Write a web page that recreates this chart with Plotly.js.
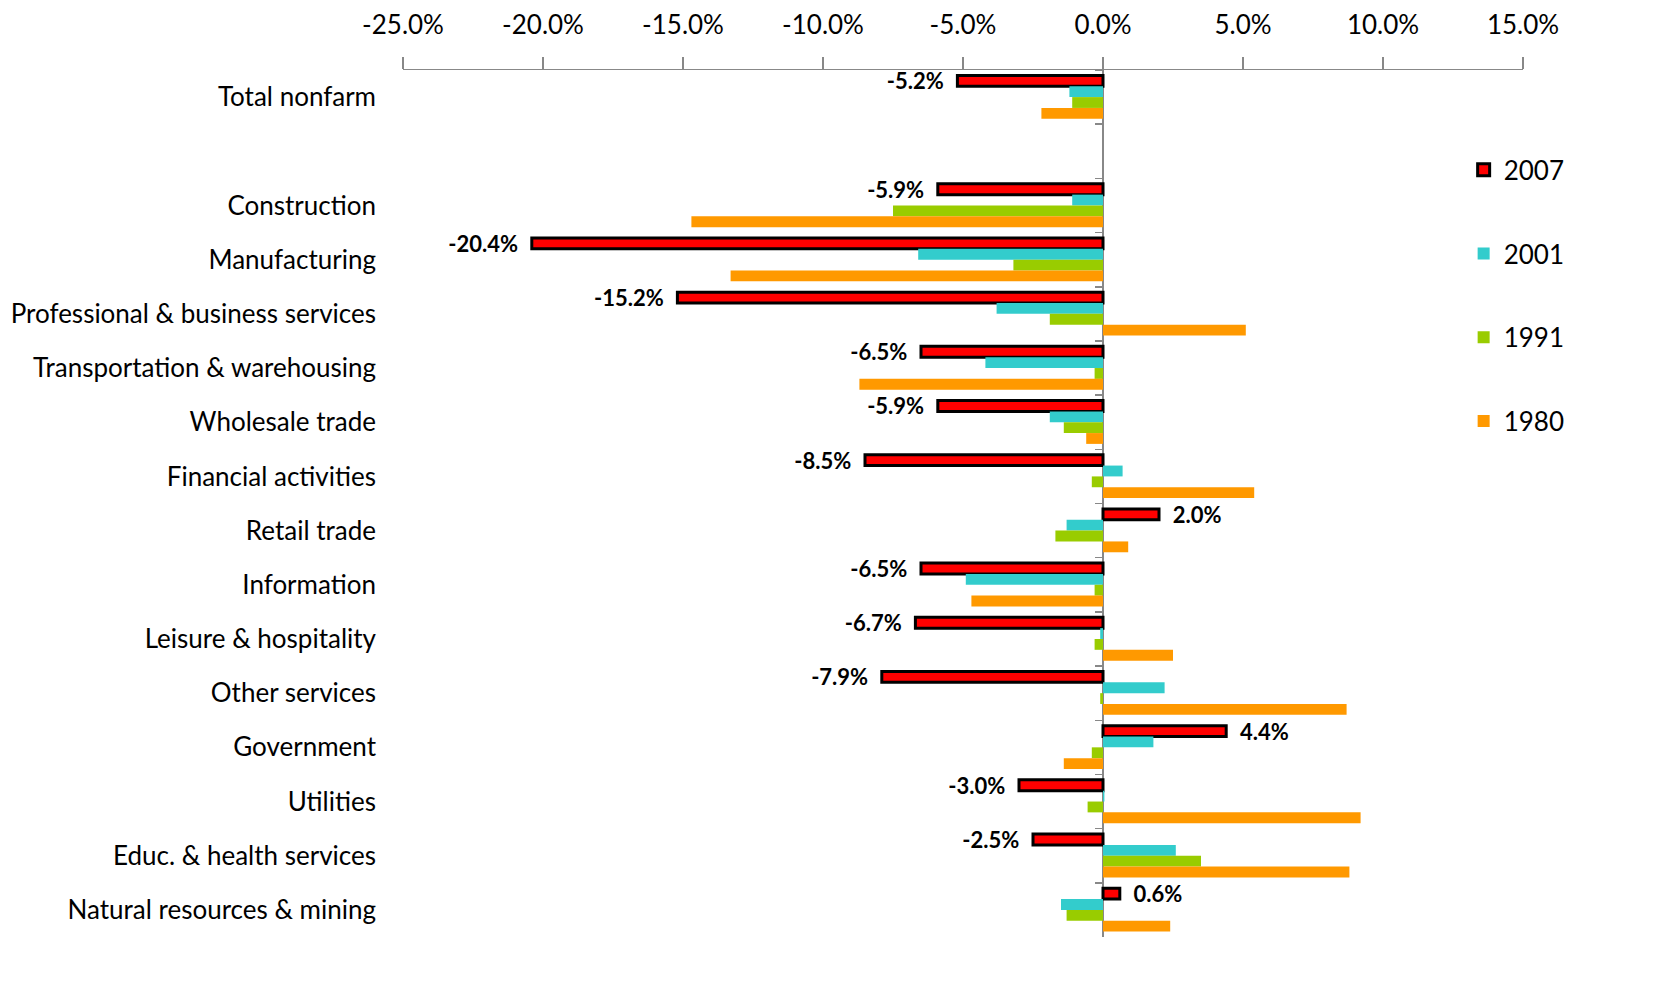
<!DOCTYPE html>
<html>
<head>
<meta charset="utf-8">
<script src="https://cdn.plot.ly/plotly-3.0.1.min.js"></script>
<style>html,body{margin:0;padding:0;background:#fff;}#chart{width:1662px;height:989px;}</style>
</head>
<body>
<div id="chart"></div>
<script>
const categories = [
  "Total nonfarm", " ", "Construction", "Manufacturing",
  "Professional & business services", "Transportation & warehousing",
  "Wholesale trade", "Financial activities", "Retail trade", "Information",
  "Leisure & hospitality", "Other services", "Government", "Utilities",
  "Educ. & health services", "Natural resources & mining"
];
const seriesNames = ["2007", "2001", "1991", "1980"];
const v2007 = [-5.2, null, -5.9, -20.4, -15.2, -6.5, -5.9, -8.5, 2.0, -6.5, -6.7, -7.9, 4.4, -3.0, -2.5, 0.6];
const v2001 = [-1.2, null, -1.1, -6.6, -3.8, -4.2, -1.9, 0.7, -1.3, -4.9, -0.1, 2.2, 1.8, 0.05, 2.6, -1.5];
const v1991 = [-1.1, null, -7.5, -3.2, -1.9, -0.3, -1.4, -0.4, -1.7, -0.3, -0.3, -0.1, -0.4, -0.55, 3.5, -1.3];
const v1980 = [-2.2, null, -14.7, -13.3, 5.1, -8.7, -0.6, 5.4, 0.9, -4.7, 2.5, 8.7, -1.4, 9.2, 8.8, 2.4];
const xTickVals = [-25, -20, -15, -10, -5, 0, 5, 10, 15];
const xTickText = ["-25.0%", "-20.0%", "-15.0%", "-10.0%", "-5.0%", "0.0%", "5.0%", "10.0%", "15.0%"];

const colors = ["#FF0000", "#33CCCC", "#99CC00", "#FF9900"];
const values = [v2007, v2001, v1991, v1980];
const FONT = "Lato, 'Open Sans', sans-serif";
const NB = "\u00a0\u00a0";

const traces = values.map((vals, i) => {
  const t = {
    type: "bar",
    orientation: "h",
    name: seriesNames[i],
    legendgroup: "g" + i,
    x: vals,
    y: categories,
    marker: {color: colors[i], line: {width: i === 0 ? 3 : 0, color: "#000"}},
    hoverinfo: "x+y+name"
  };
  if (i === 0) {
    t.text = vals.map(v => v === null ? "" : (v < 0 ? v.toFixed(1) + "%" + NB : NB + v.toFixed(1) + "%"));
    t.texttemplate = "%{text}";
    t.textposition = "outside";
    t.textfont = {family: FONT, size: 22, color: "#000", weight: "bold"};
    t.constraintext = "none";
    t.cliponaxis = false;
  }
  return t;
});

// carrier for the category tick marks drawn along the zero line (no visible marks)
traces.push({
  type: "bar", orientation: "h", x: categories.map(() => null), y: categories,
  yaxis: "y2", showlegend: false, hoverinfo: "skip", marker: {color: "rgba(0,0,0,0)"}
});

const layout = {
  width: 1662, height: 989,
  margin: {l: 403, r: 139, t: 70, b: 52},
  paper_bgcolor: "#fff", plot_bgcolor: "#fff",
  font: {family: FONT, size: 24, color: "#000"},
  barmode: "group",
  bargap: 0.2,
  bargroupgap: 0,
  showlegend: true,
  legend: {
    x: 0.947, xanchor: "left", y: 0.912, yanchor: "top",
    traceorder: "grouped", tracegroupgap: 47,
    font: {family: FONT, size: 26, color: "#000"},
    bgcolor: "rgba(0,0,0,0)"
  },
  xaxis: {
    side: "top", range: [-25, 15], tickvals: xTickVals, ticktext: xTickText,
    showgrid: false, showline: true, linecolor: "#888", linewidth: 1.5,
    ticks: "outside", ticklen: 12, tickcolor: "#888", tickwidth: 1.5,
    ticklabelstandoff: 12,
    zeroline: true, zerolinecolor: "#888", zerolinewidth: 1.5,
    tickfont: {family: FONT, size: 26, color: "#000"},
    fixedrange: true
  },
  yaxis: {
    type: "category", categoryarray: categories, categoryorder: "array",
    range: [15.5, -0.5],
    showgrid: false, showline: false, zeroline: false, ticks: "",
    ticklabelstandoff: 26,
    tickfont: {family: FONT, size: 26, color: "#000"},
    fixedrange: true
  },
  yaxis2: {
    type: "category", categoryarray: categories, categoryorder: "array",
    range: [15.5, -0.5], overlaying: "y", anchor: "free", position: 0.625,
    side: "left", showgrid: false, showline: false, zeroline: false,
    ticks: "outside", tickson: "boundaries", ticklen: 8, tickcolor: "#888", tickwidth: 1.5,
    showticklabels: false, fixedrange: true
  }
};

Plotly.newPlot("chart", traces, layout, {displayModeBar: false, staticPlot: true});
</script>
</body>
</html>
